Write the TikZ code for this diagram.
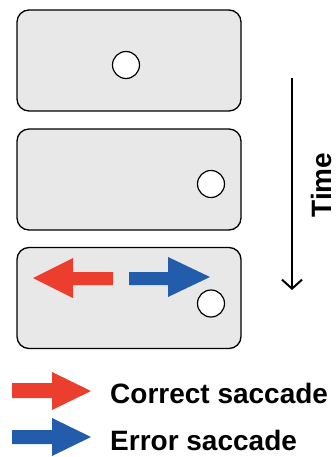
\documentclass[tikz,border=0pt]{standalone}
\usepackage{fontspec}
\setmainfont{Liberation Sans}
\usetikzlibrary{arrows.meta,calc}

\begin{document}
\begin{tikzpicture}
    [x=1pt, y=-1pt,
    %Option for nice arrows
    >={Straight Barb[length=9pt,width=20pt]}, %
    panel/.style={draw=black,line width=1.3pt,fill=black!9,rounded corners=12pt,
        minimum width=224pt,minimum height=101pt,inner sep=0pt},
    target/.style={circle,draw=black,line width=1.2pt,fill=white,minimum size=27pt,inner sep=0pt},
    label/.style={font=\bfseries\fontsize{28}{30}\selectfont,inner sep=0pt}];

    % Colors
    \definecolor{correctred}{RGB}{236,62,46};
    \definecolor{errorblue}{RGB}{34,92,170};

    \useasboundingbox (0,0) rectangle (336,457);

    % Panels
    \node[panel] (fix)  at (129,60.5) {};
    \node[panel] (gap)  at (129,179.5) {};
    \node[panel] (tgt)  at (129,298) {};

    % Targets
    \node[target] (dotA) at (126,65) {};
    \node[target] (dotB) at (211,184) {};
    \node[target] (dotC) at (211,303.5) {};

    % Saccade arrows in the last panel
    \fill[correctred] (113,272) -- (73,272) -- (73,258) -- (33,278) -- (73,298) -- (73,285) -- (113,285) -- cycle;
    \fill[errorblue] (129,272) -- (168,272) -- (168,257) -- (210,277) -- (168,297) -- (168,285) -- (129,285) -- cycle;

    % Time
    \coordinate (tstart) at (292,78);
    \coordinate (tend) at (292,290);
    \draw[->,line width=2pt] (tstart) -- (tend);
    \node[label,rotate=90] (time) at (321,185) {Time};

    % Legend
    \fill[correctred] (12,383) -- (52,383) -- (52,372) -- (91,391) -- (52,410) -- (52,398) -- (12,398) -- cycle;
    \fill[errorblue] (12,430) -- (52,430) -- (52,418) -- (91,437) -- (52,456) -- (52,444) -- (12,444) -- cycle;
    \node[label,anchor=west] (correct) at (110,393) {Correct saccade};
    \node[label,anchor=west] (error) at (110,440) {Error saccade};

\end{tikzpicture}
\end{document}
